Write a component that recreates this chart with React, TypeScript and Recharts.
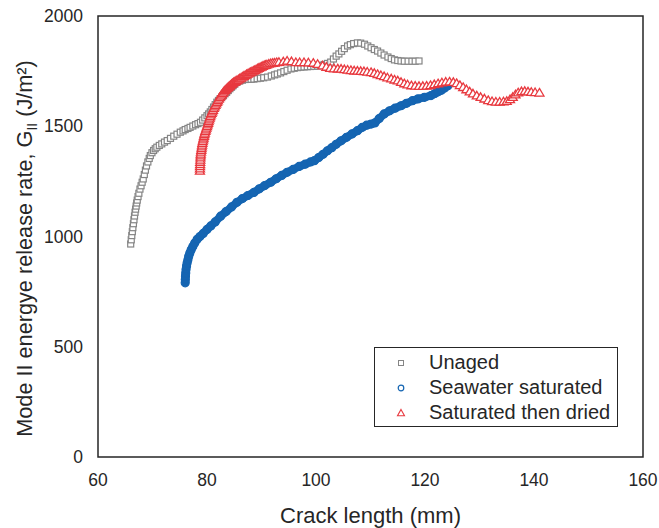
import { ScatterChart, Scatter, XAxis, YAxis, ReferenceArea } from "recharts";

const X_TICKS = [60, 80, 100, 120, 140, 160];
const Y_TICKS = [0, 500, 1000, 1500, 2000];

const SERIES_NAMES = ["Unaged", "Seawater saturated", "Saturated then dried"];

// unaged (grey squares)
const unagedX = [
  66.0, 66.1, 66.2, 66.3, 66.4, 66.5, 66.6, 66.7, 66.8, 66.9, 67.0, 67.1, 67.2, 67.35, 67.5, 67.7, 67.9, 68.1,
  68.3, 68.5, 68.7, 68.9, 69.15, 69.4, 69.6, 69.9, 70.2, 70.5, 70.8, 71.25, 71.7, 72.2, 72.7, 73.3, 73.9, 74.5,
  75.1, 75.6, 76.0, 76.5, 76.9, 77.4, 77.9, 78.35, 78.8, 79.2, 79.6, 80.0, 80.3, 80.6, 80.9, 81.2, 81.5, 81.8,
  82.1, 82.4, 82.7, 83.0, 83.3, 83.6, 83.9, 84.2, 84.5, 84.8, 85.1, 85.5, 86.0, 86.5, 87.0, 87.6, 88.1, 88.6,
  89.2, 89.8, 90.4, 91.1, 91.8, 92.4, 92.9, 93.5, 94.1, 94.7, 95.4, 96.0, 96.6, 97.2, 97.8, 98.4, 99.0, 99.6,
  100.3, 100.9, 101.5, 102.1, 102.7, 103.2, 103.7, 104.2, 104.7, 105.2, 105.8, 106.3, 106.9, 107.6, 108.2,
  108.9, 109.5, 110.1, 110.7, 111.3, 111.9, 112.5, 113.2, 113.8, 114.4, 115.0, 115.6, 116.2, 116.9, 117.6,
  118.2, 118.9,
];
const unagedY = [
  966, 985, 1004, 1022, 1040, 1058, 1076, 1093, 1110, 1124, 1138, 1152, 1165, 1181, 1196, 1215, 1230, 1246,
  1261, 1281, 1301, 1320, 1338, 1354, 1367, 1380, 1390, 1398, 1405, 1413, 1420, 1428, 1435, 1445, 1455, 1464,
  1473, 1479, 1485, 1490, 1495, 1501, 1507, 1512, 1518, 1528, 1538, 1548, 1556, 1565, 1576, 1587, 1598, 1609,
  1617, 1625, 1632, 1639, 1647, 1654, 1662, 1670, 1677, 1684, 1691, 1699, 1705, 1709, 1712, 1713, 1713, 1714,
  1716, 1718, 1720, 1723, 1728, 1733, 1737, 1742, 1748, 1754, 1760, 1763, 1766, 1768, 1769, 1770, 1771, 1772,
  1773, 1776, 1780, 1785, 1791, 1805, 1818, 1828, 1840, 1852, 1864, 1870, 1875, 1878, 1877,
  1872, 1864, 1856, 1848, 1841, 1832, 1823, 1814, 1807, 1801, 1798, 1796, 1795, 1795, 1795,
  1795, 1796,
];

// seawater saturated (blue circles)
const seawaterX = [
  76.0, 76.02, 76.05, 76.1, 76.15, 76.25, 76.35, 76.5, 76.65, 76.85, 77.1, 77.4, 77.75, 78.2, 78.7, 79.3, 80.0,
  80.7, 81.5, 82.5, 83.5, 84.5, 85.5, 86.5, 87.5, 88.6, 89.6, 90.6, 91.7, 92.7, 93.7, 94.7, 95.8, 96.9, 98.0,
  99.0, 99.7, 100.5, 101.3, 102.1, 102.9, 103.7, 104.6, 105.6, 106.6, 107.6, 108.5, 109.3, 110.1, 110.8, 111.6,
  112.5, 113.5, 114.5, 115.6, 116.6, 117.7, 118.7, 119.9, 121.1, 121.8, 122.4, 123.0, 123.6, 124.2,
];
const seawaterY = [
  790, 805, 820, 835, 850, 866, 880, 895, 910, 925, 940, 955, 970, 987, 1000, 1014, 1032,
  1048, 1066, 1092, 1113, 1134, 1155, 1172, 1186, 1200, 1216, 1231, 1246, 1262, 1277, 1291, 1304, 1318, 1328,
  1338, 1344, 1358, 1373, 1389, 1403, 1418, 1434, 1450, 1465, 1480, 1495, 1505, 1510, 1515, 1535,
  1556, 1570, 1582, 1593, 1604, 1616, 1624, 1631, 1639, 1648, 1656, 1663, 1673, 1684,
];

// saturated then dried (red triangles)
const driedX = [
  78.7, 78.71, 78.72, 78.74, 78.75, 78.78, 78.8, 78.83, 78.85, 78.9, 78.95, 79.0, 79.05, 79.1, 79.15, 79.22,
  79.3, 79.37, 79.45, 79.52, 79.6, 79.7, 79.8, 79.9, 80.0, 80.1, 80.2, 80.3, 80.4, 80.5, 80.6, 80.72, 80.85,
  80.97, 81.1, 81.25, 81.4, 81.55, 81.7, 81.85, 82.0, 82.17, 82.35, 82.52, 82.7, 82.9, 83.1, 83.3, 83.5, 83.7,
  83.9, 84.1, 84.3, 84.5, 84.7, 84.9, 85.1, 85.3, 85.5, 85.75, 86.0, 86.25, 86.5, 86.75, 87.0, 87.25, 87.5,
  87.75, 88.0, 88.25, 88.5, 88.75, 89.0, 89.25, 89.5, 89.75, 90.0, 90.25, 90.5, 90.75, 91.0, 91.35, 91.7,
  92.05, 92.4, 92.8, 93.2, 94.0, 94.7, 95.5, 96.3, 97.0, 97.8, 98.6, 99.5, 100.3,
  101.2, 101.9, 102.6, 103.3, 104.0, 104.6, 105.2, 105.8, 106.4, 107.0, 107.6, 108.2, 108.8, 109.4, 110.1,
  110.7, 111.3, 111.9, 112.5, 113.1, 113.8, 114.4, 115.0, 115.6, 116.2, 116.8, 117.5, 118.2, 118.9, 119.6,
  120.3, 121.0, 121.7, 122.4, 123.1, 123.8, 124.5, 125.2, 125.8, 126.4, 127.0, 127.6, 128.2, 128.8, 129.5,
  130.2, 130.9, 131.6, 132.3, 133.0, 133.7, 134.4, 135.0, 135.6, 136.1, 136.6, 137.1, 137.7, 138.3, 138.9,
  139.5, 140.2, 141.0,
];
const driedY = [
  1298, 1308, 1318, 1328, 1338, 1348, 1358, 1367, 1375, 1384, 1392, 1400, 1408, 1416, 1424, 1432,
  1440, 1448, 1456, 1463, 1470, 1478, 1485, 1493, 1500, 1508, 1515, 1523, 1530, 1538, 1545, 1553, 1560,
  1567, 1574, 1582, 1589, 1596, 1603, 1610, 1617, 1624, 1631, 1638, 1644, 1651, 1657, 1663, 1668, 1673,
  1678, 1682, 1686, 1691, 1695, 1699, 1702, 1705, 1708, 1712, 1716, 1720, 1724, 1728, 1731, 1735, 1738,
  1742, 1745, 1748, 1751, 1754, 1757, 1761, 1764, 1767, 1770, 1773, 1776, 1778, 1780, 1783, 1785,
  1787, 1788, 1790, 1791, 1793, 1797, 1794, 1790, 1790, 1790, 1789, 1787, 1782,
  1775, 1769, 1764, 1762, 1761, 1760, 1758, 1756, 1754, 1752, 1751, 1750, 1749, 1747, 1745,
  1741, 1736, 1731, 1726, 1721, 1716, 1711, 1707, 1700, 1694, 1689, 1685, 1683, 1682, 1682,
  1683, 1686, 1690, 1694, 1698, 1701, 1702, 1700, 1695, 1686, 1677, 1667, 1657, 1648, 1639,
  1632, 1625, 1618, 1613, 1611, 1611, 1612, 1614, 1622, 1632, 1644, 1653, 1658, 1659, 1657,
  1655, 1654, 1652,
];

const GREY = "#858585";
const BLUE = "#1565b2";
const RED = "#e8393f";
const INK = "#262626";

const zip = (xs: number[], ys: number[]) => xs.map((x, i) => ({ x, y: ys[i] }));

const unaged = zip(unagedX, unagedY);
const seawater = zip(seawaterX, seawaterY);
const dried = zip(driedX, driedY);

function SquareDot({ cx, cy }: any) {
  return <rect x={cx - 3} y={cy - 3} width={6} height={6} fill="#fff" stroke={GREY} strokeWidth={1.2} />;
}

function CircleDot({ cx, cy }: any) {
  return <circle cx={cx} cy={cy} r={4} fill={BLUE} stroke={BLUE} strokeWidth={1.2} />;
}

function TriangleDot({ cx, cy }: any) {
  return (
    <polygon
      points={`${cx},${cy - 4.3} ${cx + 4.5},${cy + 3.3} ${cx - 4.5},${cy + 3.3}`}
      fill="#fff"
      stroke={RED}
      strokeWidth={1.3}
    />
  );
}

function YTitle({ viewBox }: any) {
  const cx = 32;
  const cy = viewBox.y + viewBox.height / 2 + 12;
  return (
    <text x={cx} y={cy} transform={`rotate(-90 ${cx} ${cy})`} textAnchor="middle" fontSize={21.7} fill={INK}>
      Mode II energye release rate, G
      <tspan fontSize={14} dy={5}>II</tspan>
      <tspan dy={-5}> (J/m²)</tspan>
    </text>
  );
}

function XTitle({ viewBox }: any) {
  return (
    <text x={viewBox.x + viewBox.width / 2} y={viewBox.y + viewBox.height - 5.5} textAnchor="middle" fontSize={22} fill={INK}>
      Crack length (mm)
    </text>
  );
}

function LegendBox() {
  const marks = [
    <rect key="s" x={4.5} y={4.5} width={5} height={5} fill="#fff" stroke={GREY} strokeWidth={1} />,
    <circle key="c" cx={7} cy={7} r={2.8} fill="#fff" stroke={BLUE} strokeWidth={1.2} />,
    <polygon key="t" points="7,3.5 10.5,9.8 3.5,9.8" fill="#fff" stroke={RED} strokeWidth={1.1} />,
  ];
  return (
    <div
      style={{
        position: "absolute",
        left: 374,
        top: 347,
        boxSizing: "border-box",
        width: 244,
        height: 80,
        border: `1px solid ${INK}`,
        background: "#fff",
        paddingTop: 2,
        fontSize: 20,
        color: INK,
      }}
    >
      {SERIES_NAMES.map((name, i) => (
        <div key={name} style={{ display: "flex", alignItems: "center", height: 25 }}>
          <svg width={14} height={14} style={{ marginLeft: 19, marginRight: 21 }}>
            {marks[i]}
          </svg>
          <span style={{ lineHeight: "25px" }}>{name}</span>
        </div>
      ))}
    </div>
  );
}

export default function App() {
  return (
    <div style={{ position: "absolute", left: 0, top: 0, width: 659, height: 528, fontFamily: "'Liberation Sans', Arial, sans-serif" }}>
      <ScatterChart width={659} height={528} margin={{ top: 16, right: 16, bottom: 0, left: 0 }}>
        <XAxis
          type="number"
          dataKey="x"
          domain={[60, 160]}
          ticks={X_TICKS}
          allowDataOverflow
          height={71}
          tickLine={false}
          axisLine={false}
          tickSize={0}
          tickMargin={17}
          tick={{ fontSize: 17.5, fill: INK }}
          label={<XTitle />}
        />
        <YAxis
          type="number"
          dataKey="y"
          domain={[0, 2000]}
          ticks={Y_TICKS}
          allowDataOverflow
          width={98}
          tickLine={false}
          axisLine={false}
          tickSize={0}
          tickMargin={15}
          tick={{ fontSize: 17.5, fill: INK }}
          label={<YTitle />}
        />
        <ReferenceArea x1={60} x2={160} y1={0} y2={2000} fill="none" stroke={INK} strokeWidth={1.5} ifOverflow="visible" />
        <Scatter name={SERIES_NAMES[0]} data={unaged} shape={<SquareDot />} isAnimationActive={false} />
        <Scatter
          name={SERIES_NAMES[1]}
          data={seawater}
          shape={<CircleDot />}
          line={{ stroke: BLUE, strokeWidth: 8 }}
          isAnimationActive={false}
        />
        <Scatter name={SERIES_NAMES[2]} data={dried} shape={<TriangleDot />} isAnimationActive={false} />
      </ScatterChart>
      <LegendBox />
    </div>
  );
}
